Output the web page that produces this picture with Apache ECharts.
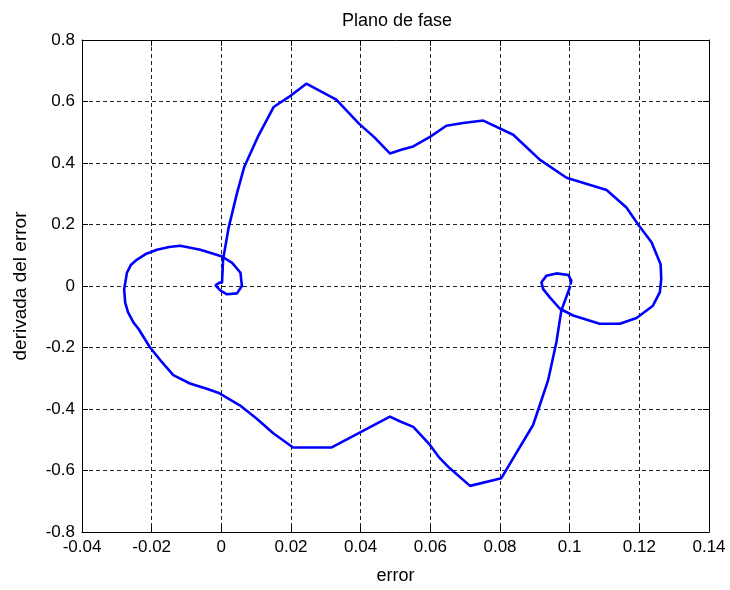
<!DOCTYPE html>
<html>
<head>
<meta charset="utf-8">
<title>Plano de fase</title>
<script src="https://cdn.jsdelivr.net/npm/echarts@6/dist/echarts.min.js"></script>
<style>
  html, body { margin: 0; padding: 0; background: #ffffff; }
  #chart { width: 730px; height: 590px; }
</style>
</head>
<body>
<div id="chart"></div>
<script>
// Trajectory in the phase plane: error e(t) and its derivative de/dt
var errorValues = [
  0.1002, 0.0976, 0.0962, 0.0938, 0.0895, 0.0838, 0.0804, 0.0714, 0.0656, 0.0627,
  0.0599, 0.0551, 0.0512, 0.0484, 0.0393, 0.0317, 0.0206, 0.0149, 0.0101, 0.0053,
  -0.0009, -0.0042, -0.0090, -0.0138, -0.0171, -0.0205, -0.0238, -0.0252, -0.0268, -0.0276,
  -0.0279, -0.0271, -0.0260, -0.0242, -0.0215, -0.0185, -0.0150, -0.0118, -0.0060, 0.0002,
  0.0031, 0.0055, 0.0059, 0.0045, 0.0016, -0.0003, -0.0017, -0.0005, 0.0002, 0.0005,
  0.0021, 0.0045, 0.0066, 0.0107, 0.0150, 0.0193, 0.0244, 0.0330, 0.0395, 0.0438,
  0.0484, 0.0514, 0.0551, 0.0599, 0.0646, 0.0694, 0.0752, 0.0838, 0.0914, 0.0991,
  0.1106, 0.1163, 0.1196, 0.1235, 0.1261, 0.1263, 0.1259, 0.1239, 0.1192, 0.1144,
  0.1086, 0.1010, 0.0972, 0.0943, 0.0924, 0.0919, 0.0933, 0.0962, 0.0996, 0.1005,
  0.1002
];
var derivValues = [
  0.000, -0.080, -0.182, -0.307, -0.452, -0.560, -0.625, -0.650, -0.593, -0.560,
  -0.517, -0.458, -0.440, -0.425, -0.479, -0.525, -0.525, -0.479, -0.431, -0.388,
  -0.347, -0.334, -0.317, -0.290, -0.247, -0.199, -0.139, -0.119, -0.085, -0.054,
  -0.011, 0.043, 0.068, 0.086, 0.105, 0.118, 0.127, 0.131, 0.118, 0.096,
  0.075, 0.043, 0.000, -0.024, -0.027, -0.014, 0.002, 0.011, 0.011, 0.086,
  0.190, 0.302, 0.388, 0.490, 0.582, 0.614, 0.658, 0.606, 0.528, 0.485,
  0.431, 0.442, 0.454, 0.485, 0.521, 0.530, 0.538, 0.492, 0.411, 0.352,
  0.312, 0.255, 0.201, 0.142, 0.071, 0.023, -0.020, -0.064, -0.104, -0.123,
  -0.123, -0.096, -0.074, -0.037, -0.010, 0.012, 0.033, 0.041, 0.036, 0.017,
  0.004
];

// Axis ranges and tick spacing
var xRange = [-0.04, 0.14];
var yRange = [-0.8, 0.8];
var xStep = 0.02;
var yStep = 0.2;

var titleText = 'Plano de fase';
var xName = 'error';
var yName = 'derivada del error';

var points = errorValues.map(function (e, i) { return [e, derivValues[i]]; });

var FONT = '"Liberation Sans", Arial, sans-serif';

function fmt(v) { return String(+v.toFixed(2)); }

var gridLine = { show: true, lineStyle: { color: '#222', width: 1, type: [4, 3] } };
var frameLine = { show: true, onZero: false, lineStyle: { color: '#000', width: 1 } };
var innerTicks = { show: true, inside: true, length: 6, lineStyle: { color: '#000', width: 1 } };

var chart = echarts.init(document.getElementById('chart'), null, { renderer: 'canvas' });
chart.setOption({
  backgroundColor: '#ffffff',
  animation: false,
  title: {
    text: titleText,
    left: 392, top: 7, textAlign: 'center',
    textStyle: { fontFamily: FONT, fontSize: 18, fontWeight: 'normal', color: '#000' }
  },
  grid: { left: 82, right: 21, top: 40, bottom: 57, containLabel: false },
  xAxis: [{
    type: 'value', position: 'bottom',
    min: xRange[0], max: xRange[1], interval: xStep,
    name: xName, nameLocation: 'middle', nameGap: 35,
    nameTextStyle: { fontFamily: FONT, fontSize: 18, color: '#000' },
    axisLine: frameLine, axisTick: innerTicks,
    axisLabel: { fontFamily: FONT, fontSize: 17, color: '#000', margin: 7, formatter: fmt },
    splitLine: gridLine
  }, {
    type: 'value', position: 'top',
    min: xRange[0], max: xRange[1], interval: xStep,
    axisLine: frameLine, axisTick: innerTicks,
    axisLabel: { show: false }, splitLine: { show: false }
  }],
  yAxis: [{
    type: 'value', position: 'left',
    min: yRange[0], max: yRange[1], interval: yStep,
    name: yName, nameLocation: 'middle', nameGap: 52, nameRotate: 90,
    nameTextStyle: { fontFamily: FONT, fontSize: 19, color: '#000' },
    axisLine: frameLine, axisTick: innerTicks,
    axisLabel: { fontFamily: FONT, fontSize: 17, color: '#000', margin: 7, formatter: fmt },
    splitLine: gridLine
  }, {
    type: 'value', position: 'right',
    min: yRange[0], max: yRange[1], interval: yStep,
    axisLine: frameLine, axisTick: innerTicks,
    axisLabel: { show: false }, splitLine: { show: false }
  }],
  series: [{
    type: 'line',
    xAxisIndex: 0, yAxisIndex: 0,
    data: points,
    showSymbol: false,
    smooth: false,
    lineStyle: { color: '#0000ff', width: 2.6 },
    z: 5
  }]
});
</script>
</body>
</html>
